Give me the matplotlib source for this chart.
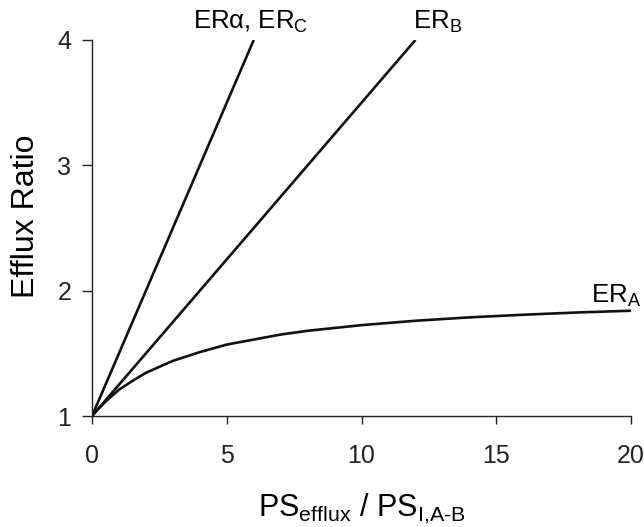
#!/usr/bin/env python

# Efflux ratio against PS_efflux / PS_I,A-B for the three ratio definitions

import matplotlib
matplotlib.use("Agg")
import matplotlib.pyplot as plt

plt.rcParams["font.family"] = ["Liberation Sans", "DejaVu Sans"]
plt.rcParams["mathtext.fontset"] = "custom"
plt.rcParams["mathtext.rm"] = "Liberation Sans"
plt.rcParams["mathtext.it"] = "Liberation Sans"

# ERalpha / ERC and ERB are straight lines from the origin
x_alpha_c = [0, 6]
y_alpha_c = [1, 4]
x_b = [0, 12]
y_b = [1, 4]

# ERA
x_a = [0, 0.25, 0.5, 1, 1.5, 2, 3, 4, 5, 6, 7, 8, 10, 12, 14, 16, 18, 20]
y_a = [1.00, 1.06, 1.115, 1.21, 1.28, 1.345, 1.44, 1.51, 1.57, 1.61, 1.65,
       1.68, 1.725, 1.76, 1.787, 1.808, 1.826, 1.84]

x_ticks = [0, 5, 10, 15, 20]
y_ticks = [1, 2, 3, 4]

fig = plt.figure(figsize=(6.44, 5.27), dpi=100, facecolor="white")
ax = fig.add_axes([0.1429, 0.2106, 0.837, 0.7135])

lw = 1.9
ax.plot(x_alpha_c, y_alpha_c, color="#111111", lw=lw, solid_capstyle="butt")
ax.plot(x_b, y_b, color="#111111", lw=lw, solid_capstyle="butt")
ax.plot(x_a, y_a, color="#111111", lw=lw, solid_capstyle="butt",
        solid_joinstyle="round")

ax.set_xlim(0, 20)
ax.set_ylim(1, 4)
ax.set_xticks(x_ticks)
ax.set_yticks(y_ticks)
ax.spines["top"].set_visible(False)
ax.spines["right"].set_visible(False)
for s in ("left", "bottom"):
    ax.spines[s].set_linewidth(1.0)
    ax.spines[s].set_color("#222222")
ax.tick_params(axis="y", direction="out", length=7, width=1.0, pad=8,
               labelsize=18, colors="#222222")
ax.tick_params(axis="x", direction="out", length=6, width=1.0, pad=14,
               labelsize=18, colors="#222222")

ax.set_ylabel("Efflux Ratio", fontsize=23)
ax.yaxis.set_label_coords(-0.095, 0.53)
ax.set_xlabel(r"PS$_{\mathregular{efflux}}$ / PS$_{\mathregular{I{,}A‐B}}$",
              fontsize=22)
ax.xaxis.set_label_coords(0.5, -0.2)

# line labels
ax.text(5.9, 4.04, r"ERα, ER$_{\mathregular{C}}$", fontsize=18.5,
        ha="center", va="bottom", clip_on=False)
ax.text(11.9, 4.04, r"ER$_{\mathregular{B}}$", fontsize=18.5,
        ha="left", va="bottom", clip_on=False)
ax.text(20.35, 1.90, r"ER$_{\mathregular{A}}$", fontsize=18.5,
        ha="right", va="baseline", clip_on=False)

fig.savefig("out.png", dpi=100)
